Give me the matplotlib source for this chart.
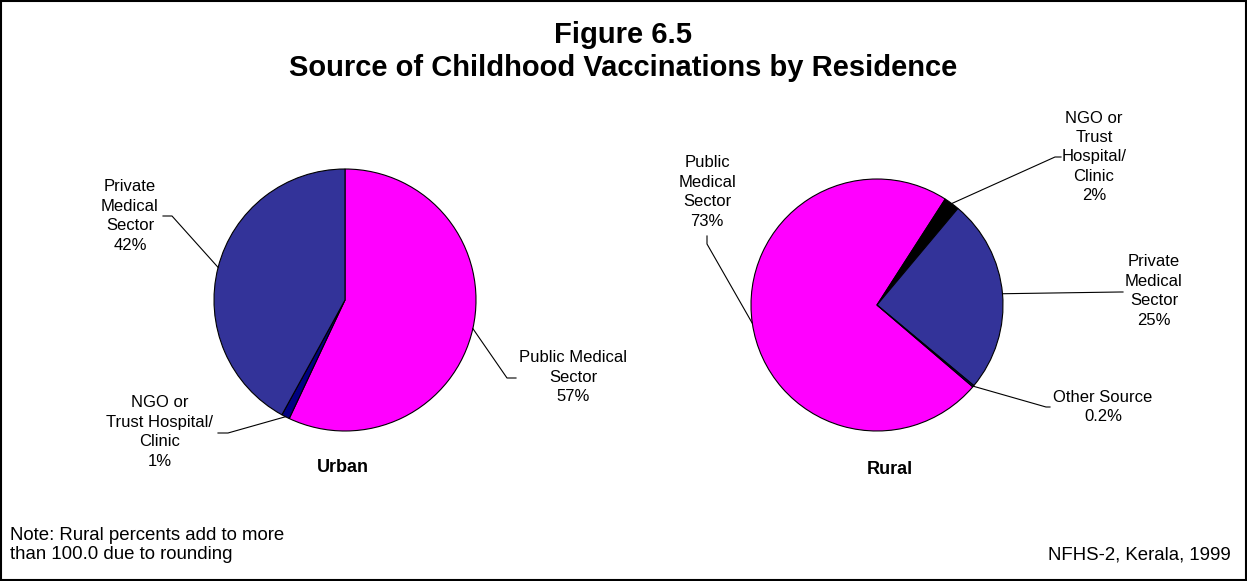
import matplotlib
matplotlib.use('Agg')
import matplotlib.pyplot as plt
from matplotlib.patches import Rectangle
import numpy as np

plt.rcParams['font.family'] = ['Liberation Sans', 'DejaVu Sans']

# 数据
urban_labels = ['Public Medical\nSector', 'NGO or\nTrust Hospital/\nClinic', 'Private\nMedical\nSector']
urban_values = [57, 1, 42]
urban_colors = ['#FF00FF', '#000080', '#333399']

rural_labels = ['Public\nMedical\nSector', 'NGO or\nTrust\nHospital/\nClinic', 'Private\nMedical\nSector', 'Other Source']
rural_values = [73, 2, 25, 0.2]
rural_colors = ['#FF00FF', '#000000', '#333399', '#000080']

W, H = 1247, 581

fig = plt.figure(figsize=(W / 100, H / 100), dpi=100)
ax = fig.add_axes([0, 0, 1, 1])


def Y(y):
    # 图片坐标 -> 数据坐标
    return H - y


def draw_pie(values, colors, center, radius, start):
    wedges, _ = ax.pie(values, colors=colors, startangle=start, counterclock=False,
                       center=(center[0], Y(center[1])), radius=radius,
                       wedgeprops=dict(edgecolor='black', linewidth=0.8))
    anchors = []
    for w in wedges:
        mid = np.deg2rad((w.theta1 + w.theta2) / 2)
        anchors.append((center[0] + radius * np.cos(mid), Y(center[1]) + radius * np.sin(mid)))
    return anchors


def label(anchor, text, pos, elbow, end):
    # 引线: 扇形边缘 -> 拐点 -> 文本
    xs = [anchor[0], elbow[0], end[0]]
    ys = [anchor[1], Y(elbow[1]), Y(end[1])]
    ax.plot(xs, ys, color='black', linewidth=0.8)
    ax.text(pos[0], Y(pos[1]), text, ha='center', va='center', fontsize=12, linespacing=1.37)


ua = draw_pie(urban_values, urban_colors, (345, 300), 131, 90)
ra = draw_pie(rural_values, rural_colors, (877, 305), 126, -40.5)

u_pct = [f'{v:g}%' for v in urban_values]
r_pct = [f'{v:g}%' for v in rural_values]

# Urban 标签
label(ua[0], urban_labels[0] + '\n' + u_pct[0], (573, 377), (507, 378), (516, 378))
label(ua[1], urban_labels[1] + '\n' + u_pct[1], (160, 432), (228, 433), (218, 433))
label(ua[2], urban_labels[2] + '\n' + u_pct[2], (130, 216), (172, 216), (163, 216))

# Rural 标签
label(ra[0], rural_labels[0] + '\n' + r_pct[0], (707, 192), (707, 244), (707, 236))
label(ra[1], rural_labels[1] + '\n' + r_pct[1], (1094, 157), (1055, 157), (1061, 157))
label(ra[2], rural_labels[2] + '\n' + r_pct[2], (1154, 291), (1120, 292), (1123, 292))
label(ra[3], rural_labels[3] + '\n' + r_pct[3], (1103, 407), (1046, 407), (1050, 407))

ax.text(343, Y(467), 'Urban', ha='center', va='center', fontsize=13, fontweight='bold')
ax.text(890, Y(470), 'Rural', ha='center', va='center', fontsize=13, fontweight='bold')

# 标题
ax.text(W / 2, Y(35), 'Figure 6.5', ha='center', va='center', fontsize=21, fontweight='bold')
ax.text(W / 2, Y(68), 'Source of Childhood Vaccinations by Residence', ha='center', va='center',
        fontsize=21, fontweight='bold')

# 注释
ax.text(10, Y(545), 'Note: Rural percents add to more\nthan 100.0 due to rounding', ha='left', va='center',
        fontsize=13.4, linespacing=1.2)
ax.text(1231, Y(555), 'NFHS-2, Kerala, 1999', ha='right', va='center', fontsize=13.4)

ax.set_xlim(0, W)
ax.set_ylim(0, H)
ax.set_aspect('equal')
ax.set_axis_off()

fig.add_artist(Rectangle((0.001, 0.002), 0.998, 0.996, transform=fig.transFigure,
                         fill=False, edgecolor='black', linewidth=1.5))

plt.savefig('out.png', dpi=100)
plt.close()
